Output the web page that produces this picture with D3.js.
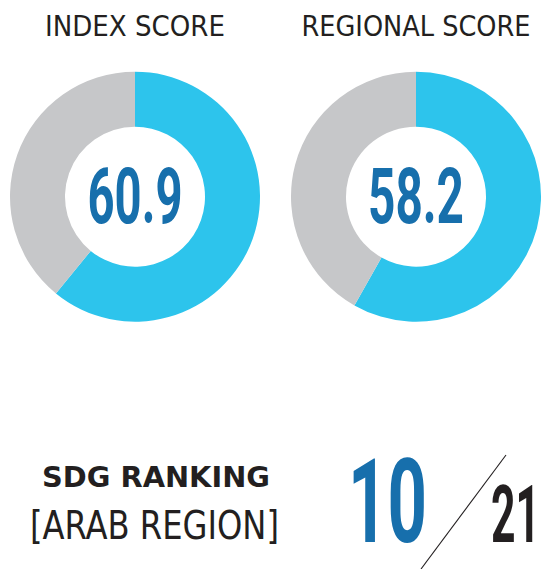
<!DOCTYPE html>
<html>
<head>
<meta charset="utf-8">
<script src="https://cdn.jsdelivr.net/npm/d3@7"></script>
<style>
  html, body { margin: 0; padding: 0; background: #ffffff; }
  svg { display: block; }
</style>
</head>
<body>
<script>
// Score donuts
const scoreLabels = ["INDEX SCORE", "REGIONAL SCORE"];
const scoreValues = [60.9, 58.2];
const scoreMax = 100;

// Ranking block
const rankTitle = "SDG RANKING";
const rankRegion = "[ARAB REGION]";
const rankValue = 10;
const rankTotal = 21;

const W = 541, H = 569;
const colorFill = "#2dc4ec", colorRest = "#c6c7c9";
const colorNumber = "#176fac", colorText = "#231f20";
const fontLabel = "'DejaVu Sans Condensed', 'DejaVu Sans', sans-serif";
const fontDigits = "Roboto, 'DejaVu Sans Condensed', sans-serif";

const svg = d3.select("body").append("svg")
  .attr("width", W).attr("height", H);

const cx = d3.scalePoint().domain(scoreLabels).range([135, 416]);
const cy = 196.7;
const outerR = 125, innerR = 70;

const pie = d3.pie().sort(null).value(d => d);
const arc = d3.arc().innerRadius(innerR).outerRadius(outerR);

const titleWidths = [180, 229];
const numberWidths = [95, 96];

// Draw a text anchored at (x, y) and squeeze it horizontally to the given width.
// anchor: "middle" centres on x, "start" starts at x.
function fitText(parent, str, x, y, width, anchor, attrs) {
  const g = parent.append("g");
  const t = g.append("text").attr("x", 0).attr("y", 0).attr("text-anchor", anchor);
  Object.entries(attrs).forEach(([k, v]) => t.attr(k, v));
  t.text(str);
  const natural = t.node().getComputedTextLength();
  g.attr("transform", `translate(${x},${y}) scale(${width / natural},1)`);
  return t;
}

scoreLabels.forEach((label, i) => {
  const v = scoreValues[i];
  const g = svg.append("g").attr("transform", `translate(${cx(label)},${cy})`);
  g.selectAll("path")
    .data(pie([v, scoreMax - v]))
    .join("path")
    .attr("d", arc)
    .attr("fill", (d, j) => j === 0 ? colorFill : colorRest);

  fitText(g, d3.format(".1f")(v), 0, 26.6, numberWidths[i], "middle", {
    "font-family": fontDigits, "font-weight": 700, "font-size": 78, fill: colorNumber
  });

  fitText(svg, label, cx(label), 35.7, titleWidths[i], "middle", {
    "font-family": fontLabel, "font-size": 28.4, fill: colorText
  });
});

// Ranking labels
fitText(svg, rankTitle, 156, 487.3, 228, "middle", {
  "font-family": fontLabel, "font-weight": "bold", "font-size": 29, fill: colorText
});

fitText(svg, rankRegion, 154.5, 539.3, 249, "middle", {
  "font-family": fontLabel, "font-size": 39, fill: colorText
});

fitText(svg, String(rankValue), 348, 541.7, 79, "start", {
  "font-family": fontDigits, "font-weight": 700, "font-size": 117, fill: colorNumber
});

svg.append("line")
  .attr("x1", 506).attr("y1", 455)
  .attr("x2", 421).attr("y2", 569)
  .attr("stroke", colorText)
  .attr("stroke-width", 1.1);

fitText(svg, String(rankTotal), 491, 541.7, 49, "start", {
  "font-family": fontDigits, "font-weight": 700, "font-size": 79, fill: colorText
});
</script>
</body>
</html>
